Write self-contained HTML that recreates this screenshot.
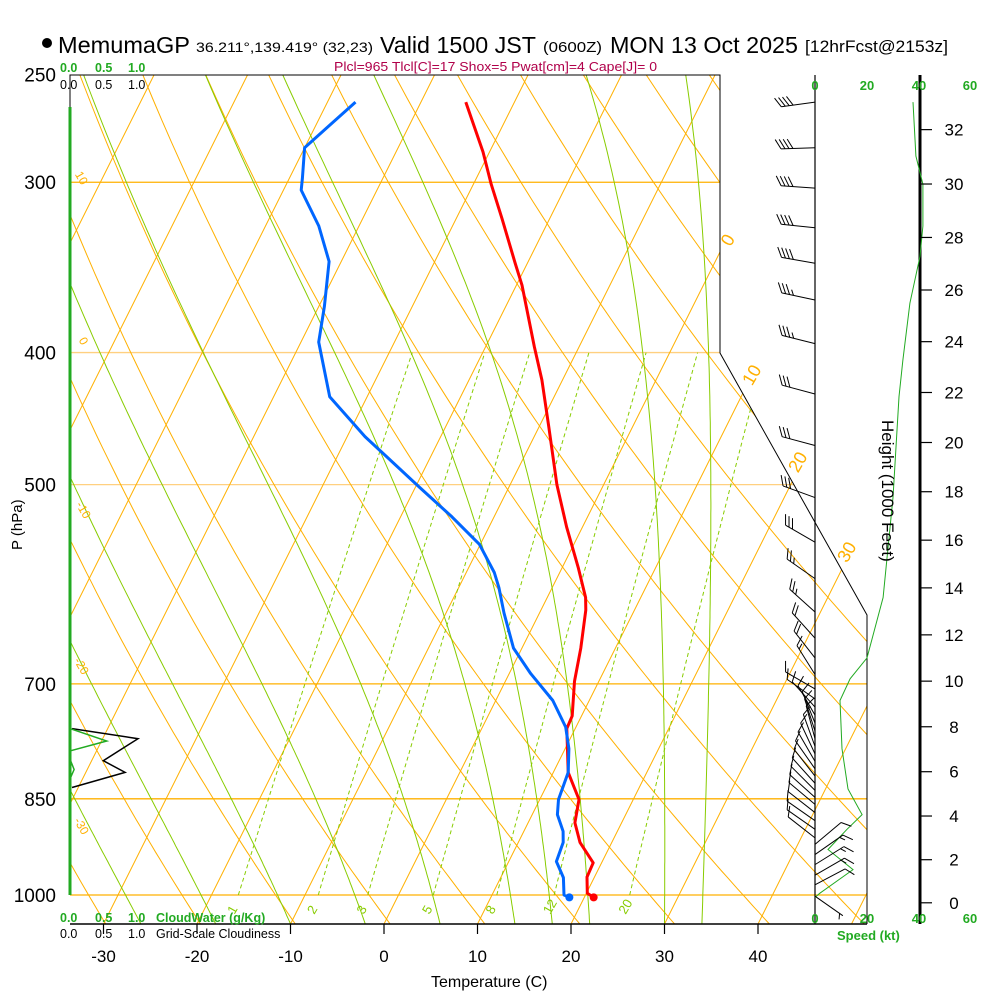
<!DOCTYPE html>
<html><head><meta charset="utf-8"><title>Skew-T MemumaGP</title>
<style>
html,body{margin:0;padding:0;background:#fff;}
svg{display:block;font-family:"Liberation Sans",sans-serif;}
</style></head>
<body>
<svg id="chart" width="1000" height="1000" viewBox="0 0 1000 1000">
<defs><clipPath id="plotClip"><polygon points="70,75 720,75 720,353 867,615 867,924 70,924"/></clipPath></defs>
<g id="bg" clip-path="url(#plotClip)"></g>
<g id="frame">
<polyline points="70,107 70,75 720,75 720,353 867,615 867,924" fill="none" stroke="#000" stroke-width="1"/>
<line x1="70" y1="924" x2="867" y2="924" stroke="#000" stroke-width="1.5"/>
<line x1="815" y1="75" x2="815" y2="924" stroke="#000" stroke-width="1.2"/>
<line x1="70" y1="107" x2="70" y2="895" stroke="#22aa22" stroke-width="3"/>
<line x1="920" y1="75" x2="920" y2="924" stroke="#000" stroke-width="3"/>
</g>
<g id="marks"></g>
<g id="texts">
<circle cx="47" cy="43" r="5" fill="#000"/>
<text x="58" y="53" font-size="23" textLength="132" lengthAdjust="spacingAndGlyphs">MemumaGP</text>
<text x="196" y="52" font-size="14" textLength="177" lengthAdjust="spacingAndGlyphs">36.211°,139.419° (32,23)</text>
<text x="380" y="53" font-size="23" textLength="156" lengthAdjust="spacingAndGlyphs">Valid 1500 JST</text>
<text x="543" y="52" font-size="15" textLength="59" lengthAdjust="spacingAndGlyphs">(0600Z)</text>
<text x="610" y="53" font-size="23" textLength="188" lengthAdjust="spacingAndGlyphs">MON 13 Oct 2025</text>
<text x="805" y="52" font-size="17" textLength="143" lengthAdjust="spacingAndGlyphs">[12hrFcst@2153z]</text>
<text x="334" y="71" font-size="12.5" fill="#b0004a" textLength="323" lengthAdjust="spacingAndGlyphs">Plcl=965 Tlcl[C]=17 Shox=5 Pwat[cm]=4 Cape[J]= 0</text>
<g font-size="12.5" fill="#22aa22" font-weight="bold">
<text x="60" y="72">0.0</text><text x="95" y="72">0.5</text><text x="128" y="72">1.0</text></g>
<g font-size="12.5" fill="#000">
<text x="60" y="89">0.0</text><text x="95" y="89">0.5</text><text x="128" y="89">1.0</text></g>
<g font-size="12.5" fill="#22aa22" font-weight="bold">
<text x="60" y="922">0.0</text><text x="95" y="922">0.5</text><text x="128" y="922">1.0</text><text x="156" y="922">CloudWater (g/Kg)</text></g>
<g font-size="12.5" fill="#000">
<text x="60" y="938">0.0</text><text x="95" y="938">0.5</text><text x="128" y="938">1.0</text><text x="156" y="938">Grid-Scale Cloudiness</text></g>
<g font-size="13" fill="#22aa22" font-weight="bold" text-anchor="middle">
<text x="815" y="90">0</text><text x="867" y="90">20</text><text x="919" y="90">40</text><text x="970" y="90">60</text></g>
<g font-size="13" fill="#22aa22" font-weight="bold" text-anchor="middle">
<text x="815" y="923">0</text><text x="867" y="923">20</text><text x="919" y="923">40</text><text x="970" y="923">60</text></g>
<text x="837" y="940" font-size="13" fill="#22aa22" font-weight="bold">Speed (kt)</text>
<text x="431" y="987" font-size="16">Temperature (C)</text>
<text transform="translate(22,550) rotate(-90)" font-size="15">P (hPa)</text>
<text transform="translate(882,420) rotate(90)" font-size="17">Height (1000 Feet)</text>
</g>
</svg>
<script>
// ---- data ----
const tempP = [262,285,301,319,344,357,396,419,453,500,537,575,605,618,659,697,739,755,813,851,885,915,947,970,997,1004];
const tempC = [-35.2,-30.7,-28.1,-25.1,-21.3,-19.4,-14.8,-12.2,-9.0,-5.0,-1.7,1.7,4.1,4.8,6.3,7.4,9.0,9.1,11.6,14.2,15.0,16.6,19.1,19.2,20.1,21.0];
const dewP = [262,283,298,304,323,343,370,393,431,461,502,528,553,580,595,621,659,688,720,753,781,813,851,873,898,915,945,971,1000,1004];
const dewC = [-47.0,-50.0,-48.6,-48.1,-44.3,-41.3,-39.4,-38.1,-34.0,-28.1,-19.6,-14.5,-10.1,-7.0,-5.7,-3.8,-0.9,2.3,6.1,8.9,10.4,11.6,12.0,12.7,14.2,14.8,15.1,16.7,17.7,18.4];
const speedP = [262,287,301,323,340,368,405,431,511,605,670,694,720,781,836,873,895,926,958,997,1004];
const speedKt = [37.7,38.8,41.5,41.5,40.4,36.5,33.8,32.3,30,26.2,20,13.5,9.6,10.4,12.7,18.1,12.3,5,14.6,1.9,0];
const windP = [262,283,303,324,344,366,394,429,468,511,551,586,620,648,670,689,706,718,728,738,748,758,768,778,788,798,808,818,828,838,848,858,870,882,895,908,918,934,950,967,983,1002];
const windDir = [262,268,274,276,280,282,284,285,285,290,300,305,312,318,322,328,300,305,318,330,338,342,345,340,335,330,325,322,318,315,312,310,308,305,305,308,50,55,58,60,62,125];
const windKt = [40,40,40,40,40,35,35,30,30,30,30,25,25,20,20,15,10,10,10,10,10,10,10,10,10,10,10,10,10,10,10,10,10,10,10,10,10,15,15,15,10,5];
const cloudP = [755,768,797,813,834];
const cloudFrac = [0.03,1.0,0.49,0.81,0.03];
const cwP = [755,771,784,795,809,822];
const cwVal = [0.0,0.54,0.0,0.0,0.06,0.0];
const pressLevels = [250,300,400,500,700,850,1000];
const tempTicks = [-30,-20,-10,0,10,20,30,40];
const heightTicks = [0,2,4,6,8,10,12,14,16,18,20,22,24,26,28,30,32];
const mixRatios = [1,2,3,5,8,12,20];
const moistStarts = [-34,-26,-18,-10,-2,6,14,18,22,30,34];

// ---- scales ----
const NS='http://www.w3.org/2000/svg';
function yP(p){return 895-592*Math.log(1000/p);}
function xT(T,p){return 384+9.35*T+0.5*(924-yP(p));}
function xSpd(s){return 815+2.6*s;}
function xCloud(v){return 70+68*v;}
function mk(tag,attrs,parent){const e=document.createElementNS(NS,tag);for(const k in attrs)e.setAttribute(k,attrs[k]);parent.appendChild(e);return e;}
const bg=document.getElementById('bg'), marks=document.getElementById('marks'), texts=document.getElementById('texts');
const pTop=1000*Math.exp(-820/592), pBot=1000*Math.exp(29/592);
function pts(arr){return arr.map(a=>a[0].toFixed(1)+','+a[1].toFixed(1)).join(' ');}

[[300,'#ffb000'],[400,'#ffd080'],[500,'#ffd080'],[700,'#ffb000'],[850,'#ffb000'],[1000,'#ffb000']].forEach(function(d){
  const l=mk('line',{x1:70,x2:867,y1:yP(d[0]),y2:yP(d[0]),stroke:d[1],'stroke-width':1.3},bg);
  
  
});
for(let T=-120;T<=50;T+=10){
  const l=mk('line',{x1:xT(T,pBot),y1:yP(pBot),x2:xT(T,pTop),y2:yP(pTop),stroke:'#ffb000','stroke-width':1},bg);
  
  
}
for(let th=200;th<=500;th+=10){
  const a=[];for(let p=pBot;p>=pTop-1;p-=10){a.push([xT(th*Math.pow(p/1000,0.2857)-273.15,p),yP(p)]);}
  const l=mk('polyline',{points:pts(a),fill:'none',stroke:'#ffb000','stroke-width':1},bg);
  
  
}
function es(T){return 6.112*Math.exp(17.67*T/(T+243.5));}
moistStarts.forEach(function(T0){
  let T=T0+273.15, p=pBot; const a=[[xT(T0,p),yP(p)]];
  while(p>pTop){
    const e=es(T-273.15), rs=0.622*e/(p-e);
    const dTdp=(1/p)*(287*T+2.5e6*rs)/(1004+2.5e6*2.5e6*rs*0.622/(287*T*T));
    const dp=-5; T+=dTdp*dp; p+=dp; a.push([xT(T-273.15,p),yP(p)]);
  }
  const l=mk('polyline',{points:pts(a),fill:'none',stroke:'#88cc00','stroke-width':1},bg);
  
  
});
mixRatios.forEach(function(w){
  const a=[];for(let p=1000;p>=400;p-=10){const e=w*p/(622+w);const L=Math.log(e/6.112);const T=243.5*L/(17.67-L);a.push([xT(T,p),yP(p)]);}
  const l=mk('polyline',{points:pts(a),fill:'none',stroke:'#88cc00','stroke-width':1,'stroke-dasharray':'4,3'},bg);
  
  
  const e=w*1000/(622+w);const L=Math.log(e/6.112);const T=243.5*L/(17.67-L);
  const t=mk('text',{transform:'translate('+(xT(T,1000)-4)+',915) rotate(-60)','font-size':13,fill:'#88cc00'},texts);
  t.textContent=String(w);
  
  
});
[['0',733,243,18],['10',757,378,18],['20',803,465,18],['30',852,555,18],['10',78,180,12],['0',80,343,12],['-10',80,512,12],['-20',78,668,12],['-30',78,828,12]].forEach(function(d){
  const t=mk('text',{transform:'translate('+d[1]+','+d[2]+') rotate('+(d[3]>14?-60:60)+')','font-size':d[3],fill:'#ffb000','text-anchor':'middle'},texts);
  t.textContent=d[0];
  
  
});
pressLevels.forEach(function(p){
  const t=mk('text',{x:56,y:yP(p)+7,'font-size':19,'text-anchor':'end'},texts);
  t.textContent=String(p);
  
  
});
tempTicks.forEach(function(T){
  const x=384+9.35*T;
  const l=mk('line',{x1:x,x2:x,y1:924,y2:934,stroke:'#000','stroke-width':1.2},texts);
  
  
  const t=mk('text',{x:x,y:962,'font-size':17,'text-anchor':'middle'},texts);
  t.textContent=String(T);
  
  
});
heightTicks.forEach(function(h){
  const pm=1013.25*Math.pow(1-2.25577e-5*h*304.8,5.25588);
  const y=yP(pm);
  const l=mk('line',{x1:920,x2:932,y1:y,y2:y,stroke:'#000','stroke-width':1.2},texts);
  
  
  const t=mk('text',{x:954,y:y+6,'font-size':17,'text-anchor':'middle'},texts);
  t.textContent=String(h);
  
  
});
const cl=mk('polyline',{points:pts(cloudP.map((p,i)=>[xCloud(cloudFrac[i]),yP(p)])),fill:'none',stroke:'#000','stroke-width':1.5},marks);


const cw=mk('polyline',{points:pts(cwP.map((p,i)=>[xCloud(cwVal[i]),yP(p)])),fill:'none',stroke:'#22aa22','stroke-width':1.5},marks);


const sp=mk('polyline',{points:pts(speedP.map((p,i)=>[xSpd(speedKt[i]),yP(p)])),fill:'none',stroke:'#22aa22','stroke-width':1},marks);


const tl=mk('polyline',{points:pts(tempP.map((p,i)=>[xT(tempC[i],p),yP(p)])),fill:'none',stroke:'#ff0000','stroke-width':3,'stroke-linejoin':'round'},marks);


const dl=mk('polyline',{points:pts(dewP.map((p,i)=>[xT(dewC[i],p),yP(p)])),fill:'none',stroke:'#0066ff','stroke-width':3,'stroke-linejoin':'round'},marks);


const nT=tempP.length-1, nD=dewP.length-1;
const td=mk('circle',{cx:xT(tempC[nT],tempP[nT]),cy:yP(tempP[nT]),r:4,fill:'#ff0000'},marks);


const dd=mk('circle',{cx:xT(dewC[nD],dewP[nD]),cy:yP(dewP[nD]),r:4,fill:'#0066ff'},marks);


windP.forEach(function(p,i){
  const g=mk('g',{stroke:'#000','stroke-width':1,fill:'none'},marks);
  
  
  const x0=815,y0=yP(p),r=windDir[i]*Math.PI/180,ux=Math.sin(r),uy=-Math.cos(r),L=34;
  const x1=x0+ux*L,y1=y0+uy*L;
  mk('line',{x1:x0,y1:y0,x2:x1,y2:y1},g);
  const c=Math.cos(Math.PI/3),s=Math.sin(Math.PI/3);
  const fx=ux*c-uy*s, fy=ux*s+uy*c;
  let spd=windKt[i], k=0;
  let n10=Math.floor(spd/10), half=(spd%10)>=5;
  for(let j=0;j<n10;j++){const bx=x1-ux*4*k,by=y1-uy*4*k;mk('line',{x1:bx,y1:by,x2:bx+fx*11,y2:by+fy*11},g);k++;}
  if(half){if(k===0)k=1;const bx=x1-ux*4*k,by=y1-uy*4*k;mk('line',{x1:bx,y1:by,x2:bx+fx*6,y2:by+fy*6},g);}
});
</script>
</body></html>
